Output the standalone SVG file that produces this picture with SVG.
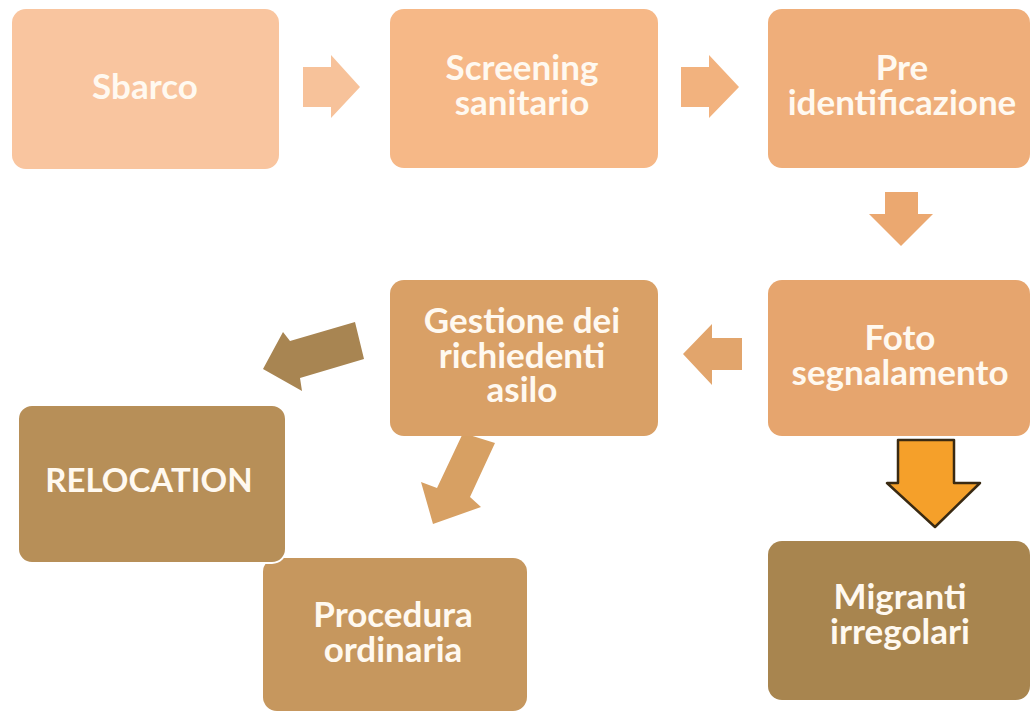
<svg xmlns="http://www.w3.org/2000/svg" width="1032" height="711" viewBox="0 0 1032 711">
<style>
.t{font-family:"Lato","Open Sans","Liberation Sans",sans-serif;font-weight:bold;font-size:35px;fill:#FFF9F0;text-anchor:middle}
.c{font-size:33px}
</style>
<rect width="1032" height="711" fill="#ffffff"/>
<g id="connectors">
<polygon points="303,67 331,67 331,55 360,87 331,118 331,107 303,107" fill="#F7C29A"/>
<polygon points="681,67 709,67 709,55 739,87 709,118 709,107 681,107" fill="#F2B27E"/>
<polygon points="885,192 918,192 918,214 933,214 901,246 869,214 885,214" fill="#EBA870"/>
<polygon points="742,338 712,338 712,324 683,354 712,385 712,370 742,370" fill="#E2A56C"/>
<polygon points="355,322 364,359 300,378 302,391 263,369 283,332 290,341" fill="#A88552"/>
<polygon points="463,433 495,443 470,497 481,507 433,524 421,482 437,488" fill="#D7A063"/>
<polygon points="898,440 954,440 954,483 980,483 935,527 887,483 898,483" fill="#F5A02A" stroke="#3A2A12" stroke-width="2.5" stroke-linejoin="round"/>
</g>
<g id="n-sbarco"><rect x="12" y="9" width="267" height="160" rx="14" fill="#F9C59F"/><text class="t" x="145" y="99">Sbarco</text></g>
<g id="n-screening"><rect x="390" y="9" width="268" height="159" rx="14" fill="#F6B887"/><text class="t" x="522" y="80">Screening</text><text class="t" x="522" y="115">sanitario</text></g>
<g id="n-pre"><rect x="768" y="9" width="262" height="159" rx="14" fill="#EFAE7A"/><text class="t" x="902" y="80">Pre</text><text class="t" x="902" y="115">identificazione</text></g>
<g id="n-foto"><rect x="768" y="280" width="262" height="156" rx="14" fill="#E6A56E"/><text class="t" x="900" y="350">Foto</text><text class="t" x="900" y="385">segnalamento</text></g>
<g id="n-gestione"><rect x="390" y="280" width="268" height="156" rx="14" fill="#D9A066"/><text class="t" x="522" y="333">Gestione dei</text><text class="t" x="522" y="368">richiedenti</text><text class="t" x="522" y="402">asilo</text></g>
<g id="n-procedura"><rect x="263" y="558" width="264" height="153" rx="14" fill="#C6975E"/><text class="t" x="393" y="627">Procedura</text><text class="t" x="393" y="662">ordinaria</text></g>
<g id="n-relocation"><rect x="18" y="405" width="268" height="158" rx="14" fill="#B78F58" stroke="#ffffff" stroke-width="2"/><text class="t c" x="149" y="492">RELOCATION</text></g>
<g id="n-migranti"><rect x="768" y="541" width="262" height="159" rx="14" fill="#A8854F"/><text class="t" x="900" y="609">Migranti</text><text class="t" x="900" y="644">irregolari</text></g>
</svg>
